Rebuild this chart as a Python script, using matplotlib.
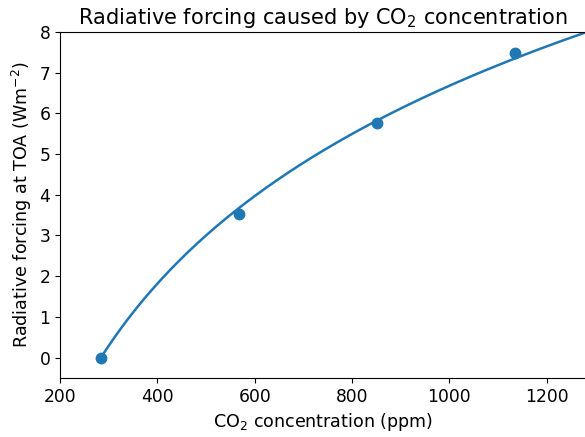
import numpy as np
import matplotlib.pyplot as plt

# concentraciones de CO2 (ppm) y forzamiento radiativo (W m-2) de los puntos
co2 = [284, 568, 852, 1136]
forcing = [0.0, 3.53, 5.76, 7.48]

# ajuste logaritmico a los puntos: F = a * ln(C / C0)
c0 = co2[0]
logs = np.log(np.array(co2) / c0)
a = np.sum(logs * np.array(forcing)) / np.sum(logs ** 2)
c_curve = np.linspace(c0, 1300, 300)
f_curve = a * np.log(c_curve / c0)

fig = plt.figure(figsize=(5.85, 4.37), dpi=100)
ax = fig.add_axes([0.1026, 0.135, 0.9, 0.792])
ax.plot(c_curve, f_curve, color='#1f77b4', lw=1.8)
ax.plot(co2, forcing, 'o', color='#1f77b4', ms=7.5)
ax.set_xlim(200, 1282)
ax.set_ylim(-0.5, 8)
ax.set_title("Radiative forcing caused by CO$_2$ concentration", fontsize=15)
ax.set_xlabel("CO$_2$ concentration (ppm)", fontsize=12.6)
ax.set_ylabel("Radiative forcing at TOA (Wm$^{-2}$)", fontsize=12.6)
ax.tick_params(labelsize=12.3)
fig.savefig("out.png", dpi=100)
